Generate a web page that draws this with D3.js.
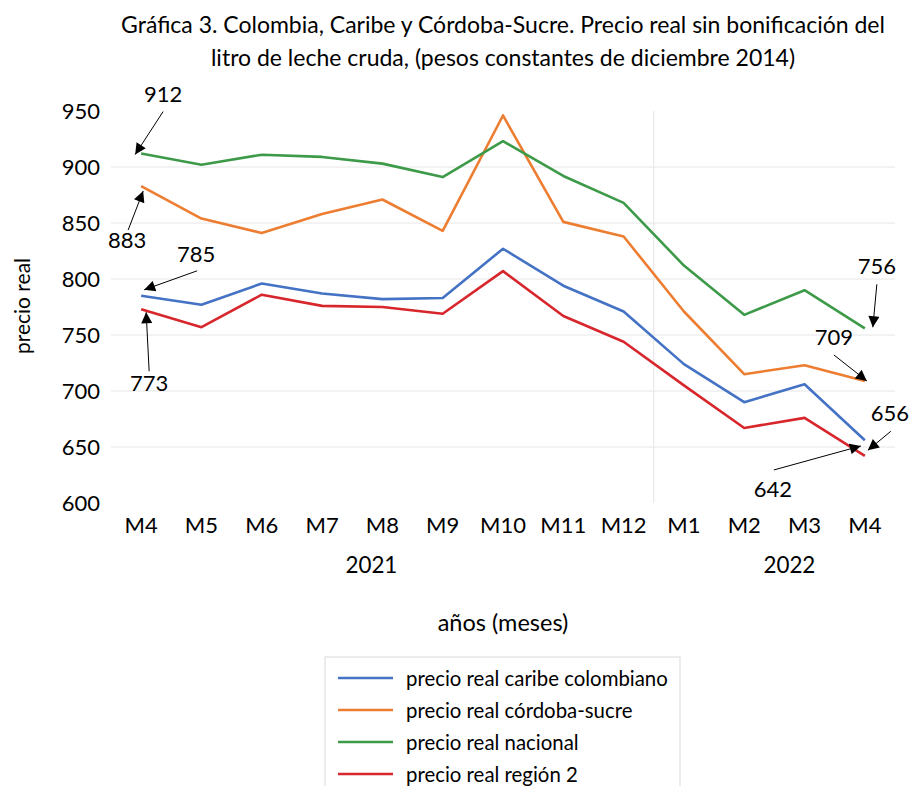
<!DOCTYPE html>
<html lang="es">
<head>
  <meta charset="UTF-8">
  <script src="https://cdnjs.cloudflare.com/ajax/libs/d3/7.8.5/d3.min.js"></script>
  <style>
    body { margin: 0; background: #fff; }
    text { font-family: Lato, "Open Sans", sans-serif; fill: #000; }
  </style>
  <title>Precio real leche cruda</title>
</head>
<body>
  <script>
    // datos
    const months = ["M4", "M5", "M6", "M7", "M8", "M9", "M10", "M11", "M12", "M1", "M2", "M3", "M4"];
    const years = [
      { label: "2021", from: 0, to: 8 },
      { label: "2022", from: 9, to: 12 }
    ];
    const caribe = [785, 777, 796, 787, 782, 783, 827, 794, 771, 724, 690, 706, 656];
    const cordoba = [883, 854, 841, 858, 871, 843, 946, 851, 838, 771, 715, 723, 709];
    const nacional = [912, 902, 911, 909, 903, 891, 923, 892, 868, 812, 768, 790, 756];
    const region2 = [773, 757, 786, 776, 775, 769, 807, 767, 744, 705, 667, 676, 642];
    const yTicks = [600, 650, 700, 750, 800, 850, 900, 950];

    const series = [
      { name: "precio real caribe colombiano", values: caribe, color: "#4472C4" },
      { name: "precio real córdoba-sucre", values: cordoba, color: "#ED7D31" },
      { name: "precio real nacional", values: nacional, color: "#3D9A48" },
      { name: "precio real región 2", values: region2, color: "#D7262C" }
    ];

    const w = 913, h = 786;
    const plotLeft = 111, plotRight = 895, plotTop = 111, plotBottom = 503;

    const svg = d3.select("body").append("svg")
      .attr("width", w)
      .attr("height", h);

    const x = d3.scaleBand()
      .domain(d3.range(months.length))
      .range([plotLeft, plotRight]);

    const y = d3.scaleLinear()
      .domain([600, 950])
      .range([plotBottom, plotTop]);

    const cx = i => x(i) + x.bandwidth() / 2;

    // titulo
    svg.append("text")
      .attr("x", 503).attr("y", 33)
      .attr("text-anchor", "middle")
      .style("font-size", "23px")
      .text("Gráfica 3. Colombia, Caribe y Córdoba-Sucre. Precio real sin bonificación del");
    svg.append("text")
      .attr("x", 503).attr("y", 66)
      .attr("text-anchor", "middle")
      .style("font-size", "23px")
      .text("litro de leche cruda, (pesos constantes de diciembre 2014)");

    // lineas de cuadricula
    svg.append("g")
      .selectAll("line")
      .data(yTicks.filter(d => d > 600 && d < 950))
      .enter().append("line")
      .attr("x1", plotLeft).attr("x2", plotRight)
      .attr("y1", d => y(d)).attr("y2", d => y(d))
      .attr("stroke", "#e6e6e6")
      .attr("stroke-width", 1);

    // separador de años
    svg.append("line")
      .attr("x1", x(years[1].from)).attr("x2", x(years[1].from))
      .attr("y1", plotTop).attr("y2", plotBottom)
      .attr("stroke", "#e6e6e6");

    // eje y
    const yAxis = d3.axisLeft(y).tickValues(yTicks).tickSize(0).tickPadding(11);
    svg.append("g")
      .attr("transform", "translate(" + plotLeft + ",0)")
      .call(yAxis)
      .call(g => g.select(".domain").remove())
      .selectAll("text")
      .style("font-size", "22px")
      .attr("dy", "0.36em");

    // eje x
    const xAxis = d3.axisBottom(x).tickFormat(i => months[i]).tickSize(0).tickPadding(14);
    svg.append("g")
      .attr("transform", "translate(0," + plotBottom + ")")
      .call(xAxis)
      .call(g => g.select(".domain").remove())
      .selectAll("text")
      .style("font-size", "22px");

    const yearShift = [-11, 15];
    svg.selectAll(".year")
      .data(years)
      .enter().append("text")
      .attr("class", "year")
      .attr("x", (d, i) => (cx(d.from) + cx(d.to)) / 2 + yearShift[i])
      .attr("y", 573)
      .attr("text-anchor", "middle")
      .style("font-size", "22.4px")
      .text(d => d.label);

    svg.append("text")
      .attr("x", 503).attr("y", 631)
      .attr("text-anchor", "middle")
      .style("font-size", "23.5px")
      .text("años (meses)");

    svg.append("text")
      .attr("transform", "translate(30,306) rotate(-90)")
      .attr("text-anchor", "middle")
      .style("font-size", "21px")
      .text("precio real");

    // series
    const line = d3.line()
      .x((d, i) => cx(i))
      .y(d => y(d));

    svg.append("g")
      .selectAll("path")
      .data(series)
      .enter().append("path")
      .attr("d", d => line(d.values))
      .attr("fill", "none")
      .attr("stroke", d => d.color)
      .attr("stroke-width", 2.6)
      .attr("stroke-linejoin", "round");

    // anotaciones con flechas
    svg.append("defs").append("marker")
      .attr("id", "arrow")
      .attr("viewBox", "0 0 10 10")
      .attr("refX", 10).attr("refY", 5)
      .attr("markerWidth", 12).attr("markerHeight", 11)
      .attr("markerUnits", "userSpaceOnUse")
      .attr("orient", "auto")
      .append("path")
      .attr("d", "M0,0 L10,5 L0,10 z")
      .attr("fill", "#000");

    const notes = [
      { s: 2, i: 0, tip: [-6, 1], tail: [22, -42], text: [22, -52] },
      { s: 1, i: 0, tip: [2, 5], tail: [-13, 44], text: [-14, 62] },
      { s: 0, i: 0, tip: [3, -6], tail: [56, -25], text: [55, -34] },
      { s: 3, i: 0, tip: [5, 3], tail: [8, 62], text: [8, 82] },
      { s: 2, i: 12, tip: [8, -1], tail: [12, -44], text: [12, -54] },
      { s: 1, i: 12, tip: [2, 0], tail: [-31, -26], text: [-31, -36] },
      { s: 0, i: 12, tip: [3, 10], tail: [26, -9], text: [25, -19] },
      { s: 3, i: 12, tip: [-4, -10], tail: [-91, 14], text: [-92, 41] }
    ];

    notes.forEach(n => {
      const px = cx(n.i), py = y(series[n.s].values[n.i]);
      svg.append("line")
        .attr("x1", px + n.tail[0]).attr("y1", py + n.tail[1])
        .attr("x2", px + n.tip[0]).attr("y2", py + n.tip[1])
        .attr("stroke", "#000")
        .attr("stroke-width", 1)
        .attr("marker-end", "url(#arrow)");
      svg.append("text")
        .attr("x", px + n.text[0]).attr("y", py + n.text[1])
        .attr("text-anchor", "middle")
        .style("font-size", "22px")
        .text(series[n.s].values[n.i]);
    });

    // leyenda
    const legend = svg.append("g");
    legend.append("rect")
      .attr("x", 325).attr("y", 657)
      .attr("width", 355).attr("height", 140)
      .attr("fill", "#fff")
      .attr("stroke", "#d9d9d9");

    const items = legend.selectAll(".item")
      .data(series)
      .enter().append("g")
      .attr("transform", (d, i) => "translate(338," + (678 + i * 32) + ")");
    items.append("line")
      .attr("x1", 0).attr("x2", 55)
      .attr("stroke", d => d.color)
      .attr("stroke-width", 2.6);
    items.append("text")
      .attr("x", 68).attr("dy", "0.4em")
      .style("font-size", "20.4px")
      .text(d => d.name);
  </script>
</body>
</html>
